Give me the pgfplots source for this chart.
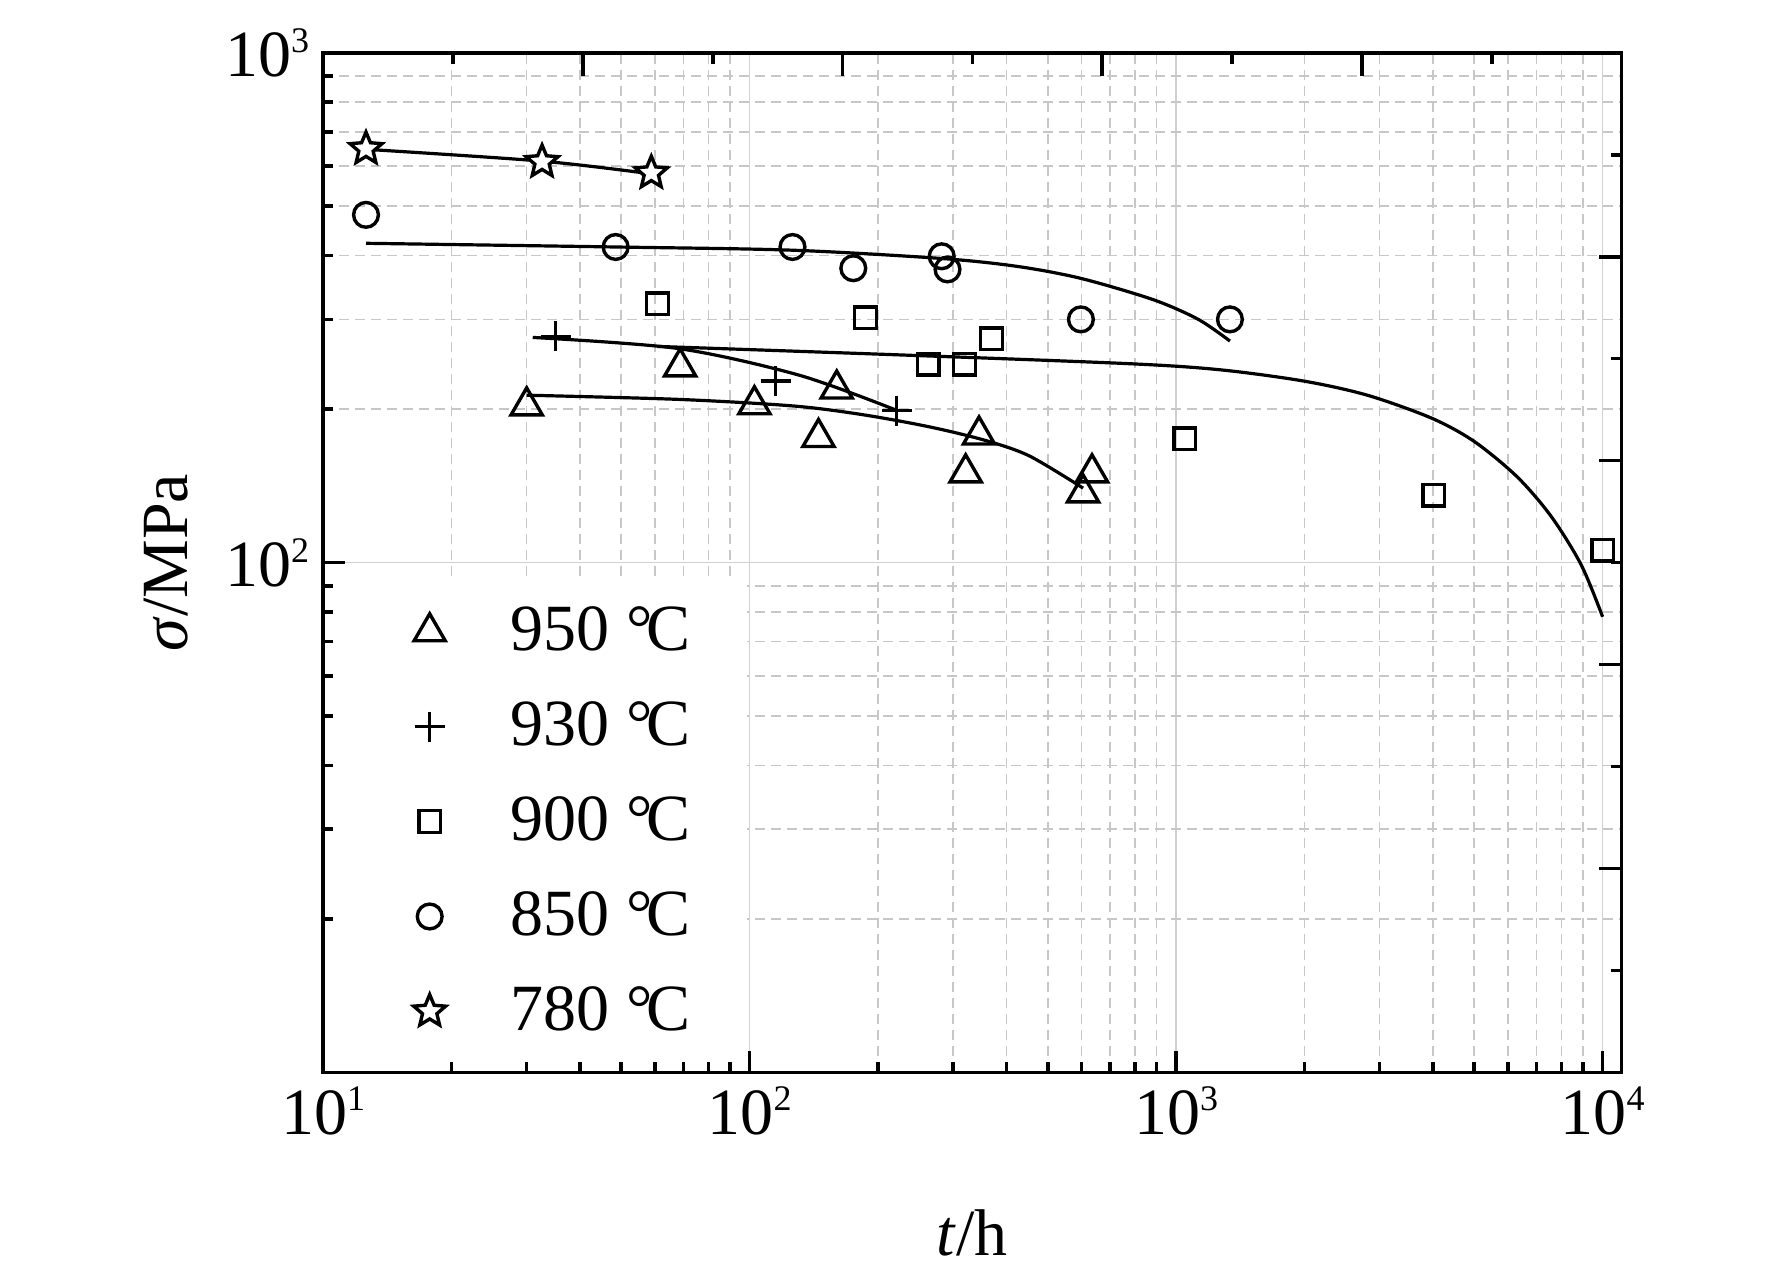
\documentclass[border=0pt]{standalone}
\usepackage{pgfplots}
\pgfplotsset{compat=1.18}
\usepackage{fontspec}
\setmainfont{Liberation Serif}
\usetikzlibrary{plotmarks}

\pgfdeclareplotmark{ostar}{%
 \pgfpathmoveto{\pgfpointpolar{90}{\pgfplotmarksize}}%
 \pgfpathlineto{\pgfpointpolar{126}{0.45\pgfplotmarksize}}%
 \pgfpathlineto{\pgfpointpolar{162}{\pgfplotmarksize}}%
 \pgfpathlineto{\pgfpointpolar{198}{0.45\pgfplotmarksize}}%
 \pgfpathlineto{\pgfpointpolar{234}{\pgfplotmarksize}}%
 \pgfpathlineto{\pgfpointpolar{270}{0.45\pgfplotmarksize}}%
 \pgfpathlineto{\pgfpointpolar{306}{\pgfplotmarksize}}%
 \pgfpathlineto{\pgfpointpolar{342}{0.45\pgfplotmarksize}}%
 \pgfpathlineto{\pgfpointpolar{18}{\pgfplotmarksize}}%
 \pgfpathlineto{\pgfpointpolar{54}{0.45\pgfplotmarksize}}%
 \pgfpathclose
 \pgfusepathqfillstroke
}

\newcommand{\tp}[1]{10\raisebox{6pt}{\fontsize{9}{9}\selectfont #1}}
\newcommand{\bigf}{\fontsize{16.5}{19}\selectfont}
\newcommand{\dc}{°\kern-1.5pt C}
\newcommand{\legtxt}[1]{#1\hspace*{12pt}}

\begin{document}
\begin{tikzpicture}
\path[use as bounding box] (-80.8pt,-50.9pt) rectangle (362.2pt,268.1pt);
\begin{axis}[
  at={(0,0)}, anchor=south west,
  width=324.6pt, height=254.9pt, scale only axis,
  xmode=log, ymode=log,
  xmin=10, xmax=11080, ymin=10, ymax=1000,
  xtick={10,100,1000,10000},
  xticklabels={\tp{1},\tp{2},\tp{3},\tp{4}},
  ytick={100,1000},
  yticklabels={\tp{2},\tp{3}},
  minor xtick={20,30,40,50,60,70,80,90,200,300,400,500,600,700,800,900,2000,3000,4000,5000,6000,7000,8000,9000},
  minor ytick={20,30,40,50,60,70,80,90,200,300,400,500,600,700,800,900},
  tick pos=left,
  tick align=inside,
  major tick length=5.5pt, minor tick length=2.5pt,
  every tick/.style={black, line width=0.9pt},
  axis line style={line width=0.9pt},
  grid=both,
  major grid style={solid, line width=0.4pt, color=black!18},
  minor grid style={dash pattern=on 2.5pt off 1.5pt, line width=0.4pt, color=black!22},
  tick label style={font=\bigf},
  label style={font=\bigf},
  xlabel={\textit{t}/h},
  ylabel={\textit{σ}/MPa},
  xlabel style={at={(axis description cs:0.5,-0.157)}, anchor=center},
  ylabel style={at={(axis description cs:-0.121,0.5)}, anchor=center},
  legend cell align=left,
  legend image code/.code={\path[draw=none,fill=none] (-23.5pt,0pt) (0pt,0pt);
     \draw[mark repeat=1,#1] plot coordinates {(0pt,0pt)};},
  legend style={draw=none, fill=white, font=\bigf,
    at={(axis description cs:0.009,0.0101)}, anchor=south west,
    inner xsep=0pt, inner ysep=4.25pt, row sep=7.25pt,
    /tikz/every odd column/.append style={column sep=14.25pt}},
]
% fitted curves
\addplot[black, line width=0.8pt, smooth, forget plot] coordinates {
 (30,213) (68.2,209) (125.5,203) (181,195.5) (261,185) (354,174) (452,162) (605,140)};
\addplot[black, line width=0.8pt, smooth, forget plot] coordinates {
 (31,276.5) (68,263) (131,233) (221,199)};
\addplot[black, line width=0.8pt, smooth, forget plot] coordinates {
 (60.8,265.5) (231,255.3) (782,245.5) (1274,238.8) (1995,227.0) (2818,212.8) (3981,191.9)
 (5012,172.6) (6310,147.2) (7586,123.0) (8913,98.9) (10000,78.3)};
\addplot[black, line width=0.8pt, smooth, forget plot] coordinates {
 (12.6,423) (48.5,416) (126,410) (282,395) (425,381) (598,361) (883,328) (1127,300) (1337,272)};
\addplot[black, line width=0.8pt, smooth, forget plot] coordinates {
 (12.5,647) (32.6,613) (58.6,579)};
% data
\addplot[only marks, mark=triangle, mark size=4.5pt, mark options={solid, fill=white, line width=0.85pt}] coordinates {
 (30.0,203) (68.7,242) (102.6,204) (145,176) (160,219) (321,150) (345,178) (605,137) (635,150)};
\addlegendentry{\legtxt{950 \dc}}
\addplot[only marks, mark=+, mark size=3.75pt, mark options={solid, line width=0.85pt}] coordinates {
 (35.1,278) (115,227) (221,198.7)};
\addlegendentry{\legtxt{930 \dc}}
\addplot[only marks, mark=square, mark size=2.7pt, mark options={solid, fill=white, line width=0.85pt}] coordinates {
 (60.8,322) (187,302) (369,275) (262,245) (319,245) (1047,175) (4020,135.6) (10000,105.8)};
\addlegendentry{\legtxt{900 \dc}}
\addplot[only marks, mark=o, mark size=3.1pt, mark options={solid, fill=white, line width=0.85pt}] coordinates {
 (12.6,481) (48.5,416) (126,416) (175,378) (282,399) (291,376) (598,300) (1337,300)};
\addlegendentry{\legtxt{850 \dc}}
\addplot[only marks, mark=ostar, mark size=4.2pt, mark options={solid, fill=white, line width=0.85pt}] coordinates {
 (12.6,648) (32.6,611) (58.8,581)};
\addlegendentry{\legtxt{780 \dc}}
\end{axis}
\begin{axis}[
  at={(0,0)}, anchor=south west,
  width=324.6pt, height=254.9pt, scale only axis,
  xmin=0, xmax=10, ymin=0, ymax=10,
  xtick={2,4,6,8}, minor xtick={1,3,5,7,9},
  ytick={2,4,6,8}, minor ytick={1,3,5,7,9},
  xticklabels={}, yticklabels={},
  xtick pos=right, ytick pos=right,
  tick align=inside,
  major tick length=5.75pt, minor tick length=2.75pt,
  every tick/.style={black, line width=0.9pt},
  axis line style={line width=0.9pt},
]
\end{axis}
\end{tikzpicture}
\end{document}
